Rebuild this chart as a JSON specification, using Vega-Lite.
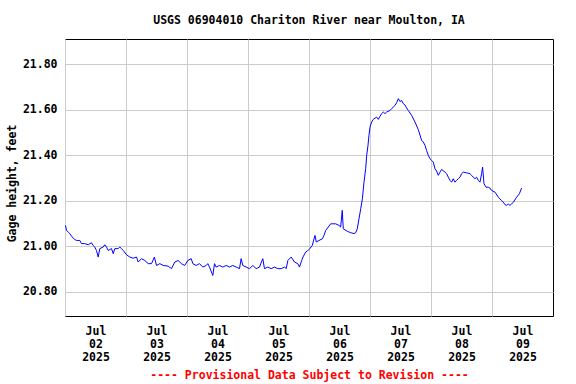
{
  "$schema": "https://vega.github.io/schema/vega-lite/v6.json",
  "width": 488,
  "height": 277,
  "autosize": {"type": "none"},
  "padding": {"left": 65, "top": 39, "right": 23, "bottom": 68},
  "background": "white",
  "title": {
    "text": "USGS 06904010 Chariton River near Moulton, IA",
    "font": "DejaVu Sans Mono",
    "fontSize": 11.5,
    "fontWeight": "bold",
    "color": "black",
    "anchor": "middle",
    "frame": "group",
    "offset": 13
  },
  "config": {
    "view": {"stroke": "black", "strokeWidth": 1},
    "axis": {
      "labelFont": "DejaVu Sans Mono",
      "labelFontSize": 11.5,
      "labelFontWeight": "bold",
      "labelColor": "black",
      "titleFont": "DejaVu Sans Mono",
      "titleFontSize": 11.5,
      "titleFontWeight": "bold",
      "titleColor": "black",
      "gridColor": "#cccccc",
      "gridWidth": 1,
      "gridOpacity": 1,
      "domain": false,
      "ticks": false
    }
  },
  "data": {
    "values": [
      {"t": "2025-07-02T00:12", "v": 21.091},
      {"t": "2025-07-02T00:36", "v": 21.069},
      {"t": "2025-07-02T01:15", "v": 21.062},
      {"t": "2025-07-02T01:53", "v": 21.055},
      {"t": "2025-07-02T02:34", "v": 21.044},
      {"t": "2025-07-02T03:14", "v": 21.035},
      {"t": "2025-07-02T03:51", "v": 21.029},
      {"t": "2025-07-02T04:31", "v": 21.025},
      {"t": "2025-07-02T05:49", "v": 21.025},
      {"t": "2025-07-02T06:29", "v": 21.011},
      {"t": "2025-07-02T07:47", "v": 21.011},
      {"t": "2025-07-02T09:08", "v": 21.006},
      {"t": "2025-07-02T10:25", "v": 21.015},
      {"t": "2025-07-02T11:05", "v": 21.003},
      {"t": "2025-07-02T11:43", "v": 20.996},
      {"t": "2025-07-02T12:23", "v": 20.981},
      {"t": "2025-07-02T13:04", "v": 20.952},
      {"t": "2025-07-02T13:41", "v": 20.989},
      {"t": "2025-07-02T15:02", "v": 20.996},
      {"t": "2025-07-02T15:39", "v": 21.006},
      {"t": "2025-07-02T16:20", "v": 20.996},
      {"t": "2025-07-02T17:00", "v": 20.981},
      {"t": "2025-07-02T18:18", "v": 20.989},
      {"t": "2025-07-02T18:58", "v": 20.967},
      {"t": "2025-07-02T19:35", "v": 20.989},
      {"t": "2025-07-02T20:56", "v": 20.989},
      {"t": "2025-07-02T21:33", "v": 20.996},
      {"t": "2025-07-02T22:14", "v": 20.989},
      {"t": "2025-07-02T22:54", "v": 20.981},
      {"t": "2025-07-03T00:12", "v": 20.962},
      {"t": "2025-07-03T01:30", "v": 20.952},
      {"t": "2025-07-03T02:50", "v": 20.947},
      {"t": "2025-07-03T04:08", "v": 20.952},
      {"t": "2025-07-03T04:48", "v": 20.930},
      {"t": "2025-07-03T06:06", "v": 20.945},
      {"t": "2025-07-03T07:24", "v": 20.937},
      {"t": "2025-07-03T08:44", "v": 20.923},
      {"t": "2025-07-03T10:02", "v": 20.923},
      {"t": "2025-07-03T11:10", "v": 20.952},
      {"t": "2025-07-03T12:00", "v": 20.915},
      {"t": "2025-07-03T13:18", "v": 20.923},
      {"t": "2025-07-03T14:38", "v": 20.915},
      {"t": "2025-07-03T16:36", "v": 20.912},
      {"t": "2025-07-03T17:54", "v": 20.901},
      {"t": "2025-07-03T19:12", "v": 20.930},
      {"t": "2025-07-03T20:30", "v": 20.937},
      {"t": "2025-07-03T21:48", "v": 20.923},
      {"t": "2025-07-03T23:06", "v": 20.915},
      {"t": "2025-07-04T00:20", "v": 20.937},
      {"t": "2025-07-04T01:39", "v": 20.945},
      {"t": "2025-07-04T02:18", "v": 20.923},
      {"t": "2025-07-04T03:37", "v": 20.915},
      {"t": "2025-07-04T04:55", "v": 20.923},
      {"t": "2025-07-04T06:13", "v": 20.908},
      {"t": "2025-07-04T07:33", "v": 20.915},
      {"t": "2025-07-04T08:11", "v": 20.923},
      {"t": "2025-07-04T08:51", "v": 20.908},
      {"t": "2025-07-04T10:09", "v": 20.871},
      {"t": "2025-07-04T10:49", "v": 20.923},
      {"t": "2025-07-04T11:29", "v": 20.908},
      {"t": "2025-07-04T12:47", "v": 20.915},
      {"t": "2025-07-04T14:05", "v": 20.908},
      {"t": "2025-07-04T15:25", "v": 20.915},
      {"t": "2025-07-04T16:43", "v": 20.908},
      {"t": "2025-07-04T18:01", "v": 20.915},
      {"t": "2025-07-04T19:21", "v": 20.908},
      {"t": "2025-07-04T20:39", "v": 20.901},
      {"t": "2025-07-04T21:18", "v": 20.945},
      {"t": "2025-07-04T21:57", "v": 20.915},
      {"t": "2025-07-04T23:17", "v": 20.908},
      {"t": "2025-07-05T00:35", "v": 20.901},
      {"t": "2025-07-05T01:53", "v": 20.915},
      {"t": "2025-07-05T03:13", "v": 20.901},
      {"t": "2025-07-05T04:31", "v": 20.908},
      {"t": "2025-07-05T05:49", "v": 20.945},
      {"t": "2025-07-05T06:29", "v": 20.901},
      {"t": "2025-07-05T07:47", "v": 20.908},
      {"t": "2025-07-05T09:08", "v": 20.901},
      {"t": "2025-07-05T10:25", "v": 20.908},
      {"t": "2025-07-05T11:43", "v": 20.901},
      {"t": "2025-07-05T13:04", "v": 20.901},
      {"t": "2025-07-05T14:22", "v": 20.908},
      {"t": "2025-07-05T15:02", "v": 20.901},
      {"t": "2025-07-05T15:41", "v": 20.937},
      {"t": "2025-07-05T17:00", "v": 20.952},
      {"t": "2025-07-05T18:18", "v": 20.930},
      {"t": "2025-07-05T19:35", "v": 20.923},
      {"t": "2025-07-05T20:15", "v": 20.908},
      {"t": "2025-07-05T21:08", "v": 20.937},
      {"t": "2025-07-05T21:38", "v": 20.952},
      {"t": "2025-07-05T22:42", "v": 20.974},
      {"t": "2025-07-05T23:20", "v": 20.978},
      {"t": "2025-07-06T00:17", "v": 20.989},
      {"t": "2025-07-06T01:18", "v": 21.003},
      {"t": "2025-07-06T01:58", "v": 21.032},
      {"t": "2025-07-06T02:22", "v": 21.047},
      {"t": "2025-07-06T02:52", "v": 21.018},
      {"t": "2025-07-06T03:56", "v": 21.025},
      {"t": "2025-07-06T05:14", "v": 21.032},
      {"t": "2025-07-06T05:54", "v": 21.047},
      {"t": "2025-07-06T06:34", "v": 21.069},
      {"t": "2025-07-06T07:36", "v": 21.084},
      {"t": "2025-07-06T08:32", "v": 21.098},
      {"t": "2025-07-06T10:30", "v": 21.098},
      {"t": "2025-07-06T11:48", "v": 21.091},
      {"t": "2025-07-06T12:27", "v": 21.084},
      {"t": "2025-07-06T13:05", "v": 21.157},
      {"t": "2025-07-06T13:29", "v": 21.076},
      {"t": "2025-07-06T15:05", "v": 21.065},
      {"t": "2025-07-06T16:25", "v": 21.059},
      {"t": "2025-07-06T17:42", "v": 21.055},
      {"t": "2025-07-06T18:22", "v": 21.059},
      {"t": "2025-07-06T19:00", "v": 21.076},
      {"t": "2025-07-06T19:40", "v": 21.120},
      {"t": "2025-07-06T20:21", "v": 21.164},
      {"t": "2025-07-06T21:00", "v": 21.208},
      {"t": "2025-07-06T21:38", "v": 21.281},
      {"t": "2025-07-06T22:18", "v": 21.340},
      {"t": "2025-07-06T22:42", "v": 21.399},
      {"t": "2025-07-06T23:13", "v": 21.443},
      {"t": "2025-07-06T23:36", "v": 21.487},
      {"t": "2025-07-07T00:00", "v": 21.523},
      {"t": "2025-07-07T00:38", "v": 21.545},
      {"t": "2025-07-07T01:18", "v": 21.557},
      {"t": "2025-07-07T02:36", "v": 21.567},
      {"t": "2025-07-07T03:16", "v": 21.557},
      {"t": "2025-07-07T03:56", "v": 21.570},
      {"t": "2025-07-07T04:34", "v": 21.582},
      {"t": "2025-07-07T05:14", "v": 21.589},
      {"t": "2025-07-07T05:54", "v": 21.582},
      {"t": "2025-07-07T06:32", "v": 21.589},
      {"t": "2025-07-07T07:52", "v": 21.596},
      {"t": "2025-07-07T08:30", "v": 21.604},
      {"t": "2025-07-07T09:10", "v": 21.611},
      {"t": "2025-07-07T09:50", "v": 21.618},
      {"t": "2025-07-07T10:28", "v": 21.630},
      {"t": "2025-07-07T11:09", "v": 21.648},
      {"t": "2025-07-07T11:48", "v": 21.635},
      {"t": "2025-07-07T12:26", "v": 21.640},
      {"t": "2025-07-07T13:06", "v": 21.626},
      {"t": "2025-07-07T13:46", "v": 21.620},
      {"t": "2025-07-07T14:24", "v": 21.607},
      {"t": "2025-07-07T15:04", "v": 21.596},
      {"t": "2025-07-07T15:44", "v": 21.585},
      {"t": "2025-07-07T16:22", "v": 21.575},
      {"t": "2025-07-07T17:42", "v": 21.545},
      {"t": "2025-07-07T19:00", "v": 21.512},
      {"t": "2025-07-07T20:18", "v": 21.465},
      {"t": "2025-07-07T20:58", "v": 21.457},
      {"t": "2025-07-07T21:38", "v": 21.443},
      {"t": "2025-07-07T22:16", "v": 21.420},
      {"t": "2025-07-07T22:56", "v": 21.399},
      {"t": "2025-07-07T23:36", "v": 21.384},
      {"t": "2025-07-08T00:14", "v": 21.377},
      {"t": "2025-07-08T00:54", "v": 21.369},
      {"t": "2025-07-08T01:34", "v": 21.340},
      {"t": "2025-07-08T02:12", "v": 21.330},
      {"t": "2025-07-08T02:52", "v": 21.311},
      {"t": "2025-07-08T03:32", "v": 21.325},
      {"t": "2025-07-08T04:10", "v": 21.337},
      {"t": "2025-07-08T05:30", "v": 21.325},
      {"t": "2025-07-08T06:08", "v": 21.318},
      {"t": "2025-07-08T06:48", "v": 21.303},
      {"t": "2025-07-08T07:28", "v": 21.289},
      {"t": "2025-07-08T08:06", "v": 21.281},
      {"t": "2025-07-08T08:46", "v": 21.296},
      {"t": "2025-07-08T09:26", "v": 21.281},
      {"t": "2025-07-08T10:04", "v": 21.289},
      {"t": "2025-07-08T10:44", "v": 21.296},
      {"t": "2025-07-08T11:24", "v": 21.303},
      {"t": "2025-07-08T12:02", "v": 21.318},
      {"t": "2025-07-08T12:42", "v": 21.325},
      {"t": "2025-07-08T14:00", "v": 21.322},
      {"t": "2025-07-08T15:20", "v": 21.318},
      {"t": "2025-07-08T15:58", "v": 21.311},
      {"t": "2025-07-08T16:38", "v": 21.303},
      {"t": "2025-07-08T17:18", "v": 21.296},
      {"t": "2025-07-08T17:56", "v": 21.303},
      {"t": "2025-07-08T18:36", "v": 21.289},
      {"t": "2025-07-08T19:16", "v": 21.281},
      {"t": "2025-07-08T19:54", "v": 21.318},
      {"t": "2025-07-08T20:18", "v": 21.347},
      {"t": "2025-07-08T20:51", "v": 21.274},
      {"t": "2025-07-08T21:38", "v": 21.259},
      {"t": "2025-07-08T22:32", "v": 21.259},
      {"t": "2025-07-08T23:12", "v": 21.255},
      {"t": "2025-07-08T23:50", "v": 21.245},
      {"t": "2025-07-09T01:11", "v": 21.237},
      {"t": "2025-07-09T02:29", "v": 21.215},
      {"t": "2025-07-09T03:47", "v": 21.200},
      {"t": "2025-07-09T04:27", "v": 21.193},
      {"t": "2025-07-09T05:07", "v": 21.182},
      {"t": "2025-07-09T05:45", "v": 21.179},
      {"t": "2025-07-09T06:25", "v": 21.185},
      {"t": "2025-07-09T07:05", "v": 21.179},
      {"t": "2025-07-09T07:43", "v": 21.185},
      {"t": "2025-07-09T08:23", "v": 21.193},
      {"t": "2025-07-09T09:41", "v": 21.215},
      {"t": "2025-07-09T10:46", "v": 21.230},
      {"t": "2025-07-09T11:38", "v": 21.255}
    ]
  },
  "mark": {"type": "line", "color": "#0000ff", "strokeWidth": 1, "clip": true},
  "encoding": {
    "x": {
      "field": "t",
      "type": "temporal",
      "scale": {
        "domain": [
          {"year": 2025, "month": 7, "date": 2},
          {"year": 2025, "month": 7, "date": 10}
        ],
        "nice": false
      },
      "axis": {
        "values": [
          {"year": 2025, "month": 7, "date": 2},
          {"year": 2025, "month": 7, "date": 3},
          {"year": 2025, "month": 7, "date": 4},
          {"year": 2025, "month": 7, "date": 5},
          {"year": 2025, "month": 7, "date": 6},
          {"year": 2025, "month": 7, "date": 7},
          {"year": 2025, "month": 7, "date": 8},
          {"year": 2025, "month": 7, "date": 9}
        ],
        "labelExpr": "[timeFormat(datum.value, '%b'), timeFormat(datum.value, '%d'), timeFormat(datum.value, '%Y')]",
        "labelOffset": 30.5,
        "labelPadding": 9,
        "labelLineHeight": 13.3,
        "labelBaseline": "top",
        "labelOverlap": false,
        "labelBound": false,
        "labelFlush": false,
        "grid": true,
        "title": "---- Provisional Data Subject to Revision ----",
        "titleColor": "#ff0000",
        "titlePadding": 6
      }
    },
    "y": {
      "field": "v",
      "type": "quantitative",
      "scale": {"domain": [20.693, 21.91], "nice": false, "zero": false},
      "axis": {
        "values": [20.8, 21.0, 21.2, 21.4, 21.6, 21.8],
        "format": ".2f",
        "labelPadding": 8,
        "grid": true,
        "title": "Gage height, feet",
        "titlePadding": 5,
        "titleY": 144
      }
    }
  }
}
